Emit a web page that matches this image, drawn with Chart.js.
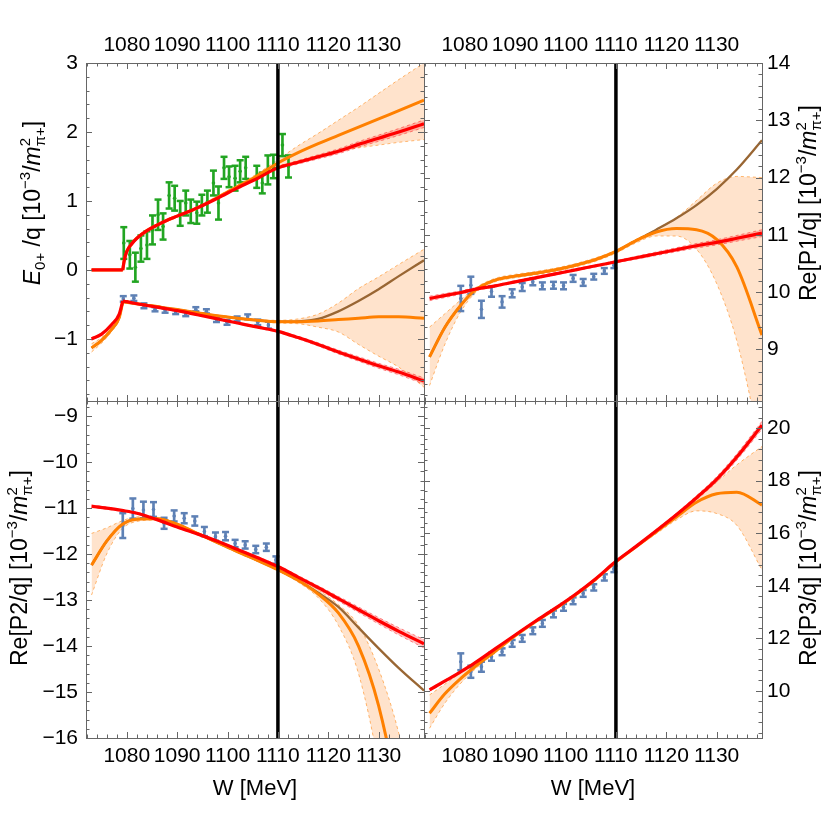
<!DOCTYPE html>
<html>
<head>
<meta charset="utf-8">
<script src="https://cdn.jsdelivr.net/npm/chart.js@4.4.1/dist/chart.umd.min.js"></script>
<style>
  html, body { margin: 0; padding: 0; background: #fff; }
  #wrap { position: relative; width: 822px; height: 822px; }
  #wrap canvas { position: absolute; left: 0; top: 0; }
</style>
</head>
<body>
<div id="wrap">
  <canvas id="pE" width="822" height="822"></canvas>
  <canvas id="pP1" width="822" height="822"></canvas>
  <canvas id="pP2" width="822" height="822"></canvas>
  <canvas id="pP3" width="822" height="822"></canvas>
</div>
<script>
// W axis (MeV)
const wMin = 1071.9, wMax = 1139;
const wTicks = [1080, 1090, 1100, 1110, 1120, 1130];
const wCut = 1110;      // vertical marker
const wCusp = 1079.2;   // pi+ n threshold

// E0+/q panel -- curve grid
const wE = [1073, 1075, 1077, 1078.5, 1079.2, 1079.5, 1080, 1081, 1082, 1084, 1086, 1088, 1090, 1094, 1098, 1102, 1106, 1110, 1114, 1118, 1122, 1126, 1130, 1134, 1139];
const eUpRed     = [0, 0, 0, 0, 0, 0.14, 0.27, 0.38, 0.46, 0.57, 0.65, 0.72, 0.78, 0.90, 1.04, 1.19, 1.33, 1.48, 1.56, 1.64, 1.72, 1.82, 1.91, 2.00, 2.12];
const eUpRedErr  = [0, 0, 0, 0, 0, 0.01, 0.01, 0.01, 0.01, 0.01, 0.01, 0.01, 0.01, 0.01, 0.01, 0.01, 0.015, 0.02, 0.025, 0.03, 0.035, 0.04, 0.045, 0.05, 0.055];
const eUpOrange  = [0, 0, 0, 0, 0, 0.14, 0.27, 0.38, 0.46, 0.57, 0.65, 0.72, 0.78, 0.90, 1.05, 1.21, 1.37, 1.55, 1.70, 1.83, 1.95, 2.07, 2.19, 2.31, 2.46];
const eUpBandHi  = [0, 0, 0, 0, 0, 0.15, 0.28, 0.39, 0.47, 0.58, 0.66, 0.73, 0.79, 0.92, 1.07, 1.23, 1.40, 1.60, 1.80, 1.98, 2.17, 2.36, 2.56, 2.76, 3.00];
const eUpBandLo  = [0, 0, 0, 0, 0, 0.13, 0.26, 0.37, 0.45, 0.56, 0.64, 0.71, 0.77, 0.88, 1.03, 1.19, 1.34, 1.50, 1.58, 1.66, 1.72, 1.77, 1.81, 1.85, 1.89];
const eLowRed    = [-1.00, -0.93, -0.79, -0.64, -0.45, -0.455, -0.46, -0.475, -0.49, -0.515, -0.54, -0.565, -0.59, -0.65, -0.71, -0.77, -0.83, -0.89, -0.98, -1.08, -1.19, -1.29, -1.39, -1.48, -1.61];
const eLowRedErr = [0.02, 0.015, 0.012, 0.01, 0.008, 0.008, 0.008, 0.008, 0.008, 0.008, 0.008, 0.008, 0.008, 0.01, 0.01, 0.012, 0.014, 0.016, 0.02, 0.024, 0.028, 0.032, 0.036, 0.04, 0.045];
const eLowOrange = [-1.13, -1.02, -0.86, -0.69, -0.46, -0.465, -0.47, -0.48, -0.49, -0.51, -0.53, -0.555, -0.575, -0.62, -0.665, -0.70, -0.73, -0.75, -0.75, -0.74, -0.72, -0.70, -0.68, -0.68, -0.70];
const eLowBrown  = [-1.13, -1.02, -0.86, -0.69, -0.46, -0.465, -0.47, -0.48, -0.49, -0.51, -0.53, -0.555, -0.575, -0.62, -0.665, -0.70, -0.73, -0.75, -0.745, -0.71, -0.60, -0.45, -0.28, -0.09, 0.14];
const eLowBandHi = [-1.07, -0.98, -0.83, -0.67, -0.45, -0.46, -0.465, -0.475, -0.485, -0.505, -0.525, -0.55, -0.57, -0.615, -0.66, -0.695, -0.72, -0.73, -0.71, -0.64, -0.48, -0.27, -0.10, 0.08, 0.30];
const eLowBandLo = [-1.19, -1.06, -0.89, -0.71, -0.47, -0.47, -0.475, -0.485, -0.495, -0.515, -0.535, -0.56, -0.58, -0.625, -0.67, -0.705, -0.74, -0.77, -0.78, -0.83, -0.90, -1.08, -1.25, -1.41, -1.70];

// E0+/q data points
const greenW   = [1079.4, 1080.6, 1081.7, 1082.8, 1084.0, 1085.1, 1086.2, 1087.2, 1088.4, 1089.5, 1090.6, 1091.7, 1092.7, 1093.9, 1094.9, 1096.0, 1097.2, 1098.2, 1099.3, 1100.3, 1101.5, 1102.5, 1103.6, 1105.8, 1106.9, 1108.0, 1109.1, 1110.9, 1112.1];
const greenV   = [0.39, 0.22, 0.04, 0.31, 0.36, 0.58, 0.80, 0.63, 1.08, 1.04, 0.82, 0.97, 0.85, 0.83, 0.94, 0.99, 1.26, 0.97, 1.48, 1.35, 1.33, 1.43, 1.48, 1.35, 1.26, 1.45, 1.50, 1.81, 1.50];
const greenErr = [0.23, 0.20, 0.21, 0.19, 0.20, 0.21, 0.22, 0.19, 0.19, 0.18, 0.18, 0.18, 0.17, 0.16, 0.15, 0.16, 0.18, 0.24, 0.16, 0.15, 0.18, 0.16, 0.16, 0.16, 0.15, 0.21, 0.17, 0.16, 0.16];
const eBlueW   = [1079.3, 1081.4, 1083.4, 1085.6, 1087.6, 1089.7, 1091.7, 1093.7, 1095.8, 1097.8, 1099.9, 1101.9, 1104.0, 1106.0, 1108.1];
const eBlueV   = [-0.42, -0.41, -0.52, -0.57, -0.59, -0.61, -0.64, -0.57, -0.60, -0.72, -0.76, -0.71, -0.68, -0.76, -0.80];
const eBlueErr = [0.04, 0.04, 0.035, 0.03, 0.03, 0.03, 0.03, 0.03, 0.03, 0.035, 0.035, 0.035, 0.035, 0.04, 0.05];

// P-wave panels -- curve grid
const wP = [1073, 1076, 1079, 1082, 1086, 1090, 1094, 1098, 1102, 1106, 1110, 1114, 1118, 1122, 1126, 1130, 1134, 1139];
const p1Red    = [9.89, 9.94, 9.99, 10.05, 10.11, 10.18, 10.25, 10.32, 10.39, 10.46, 10.53, 10.60, 10.67, 10.74, 10.81, 10.87, 10.94, 11.03];
const p1RedErr = [0.04, 0.035, 0.03, 0.025, 0.02, 0.02, 0.02, 0.02, 0.02, 0.02, 0.02, 0.025, 0.03, 0.035, 0.04, 0.045, 0.05, 0.06];
const p1Orange = [8.87, 9.38, 9.75, 10.03, 10.21, 10.28, 10.33, 10.39, 10.47, 10.57, 10.71, 10.90, 11.05, 11.11, 11.09, 10.92, 10.44, 9.25];
const p1Brown  = [8.87, 9.38, 9.75, 10.03, 10.21, 10.28, 10.33, 10.39, 10.47, 10.57, 10.71, 10.90, 11.09, 11.29, 11.52, 11.80, 12.14, 12.65];
const p1BandHi = [9.39, 9.62, 9.85, 10.07, 10.24, 10.31, 10.36, 10.42, 10.50, 10.60, 10.73, 10.92, 11.10, 11.30, 11.60, 11.90, 12.02, 12.00];
const p1BandLo = [8.37, 9.08, 9.63, 9.98, 10.18, 10.25, 10.30, 10.36, 10.44, 10.54, 10.68, 10.86, 10.98, 10.98, 10.75, 10.15, 9.15, 7.20];

const p2Red    = [-10.96, -11.00, -11.05, -11.11, -11.25, -11.41, -11.56, -11.72, -11.90, -12.08, -12.27, -12.50, -12.73, -12.97, -13.21, -13.45, -13.68, -13.95];
const p2RedErr = [0.03, 0.025, 0.02, 0.02, 0.02, 0.02, 0.02, 0.02, 0.02, 0.025, 0.03, 0.035, 0.04, 0.05, 0.06, 0.07, 0.08, 0.09];
const p2Orange = [-12.24, -11.72, -11.36, -11.24, -11.23, -11.35, -11.55, -11.75, -11.95, -12.14, -12.34, -12.57, -12.87, -13.28, -14.00, -15.30, -17.40, -21.00];
const p2Brown  = [-12.24, -11.72, -11.36, -11.24, -11.23, -11.35, -11.55, -11.75, -11.95, -12.14, -12.34, -12.57, -12.84, -13.15, -13.60, -14.05, -14.48, -14.97];
const p2BandHi = [-11.55, -11.43, -11.28, -11.19, -11.20, -11.33, -11.53, -11.73, -11.93, -12.12, -12.32, -12.53, -12.78, -13.10, -13.55, -14.50, -15.90, -18.50];
const p2BandLo = [-12.89, -12.00, -11.46, -11.29, -11.26, -11.37, -11.57, -11.77, -11.97, -12.16, -12.36, -12.61, -12.95, -13.55, -14.60, -16.60, -19.50, -23.00];

const p3Red    = [10.04, 10.37, 10.71, 11.07, 11.60, 12.13, 12.65, 13.15, 13.68, 14.27, 14.93, 15.50, 16.09, 16.70, 17.35, 18.05, 18.90, 20.11];
const p3RedErr = [0.05, 0.04, 0.03, 0.03, 0.03, 0.03, 0.03, 0.03, 0.03, 0.03, 0.03, 0.04, 0.05, 0.06, 0.08, 0.10, 0.12, 0.15];
const p3Orange = [9.15, 9.88, 10.44, 10.92, 11.50, 12.10, 12.63, 13.13, 13.66, 14.25, 14.91, 15.48, 16.05, 16.62, 17.18, 17.50, 17.56, 17.07];
const p3BandHi = [9.85, 10.25, 10.66, 11.03, 11.56, 12.13, 12.66, 13.16, 13.69, 14.28, 14.94, 15.51, 16.10, 16.72, 17.33, 17.95, 18.60, 19.30];
const p3BandLo = [8.58, 9.52, 10.25, 10.82, 11.45, 12.07, 12.60, 13.10, 13.63, 14.22, 14.88, 15.45, 15.98, 16.50, 16.85, 16.75, 16.30, 14.60];

// P-wave data points
const pDataW = [1079.2, 1081.2, 1083.3, 1085.3, 1087.4, 1089.4, 1091.4, 1093.5, 1095.4, 1097.6, 1099.6, 1101.5, 1103.5, 1105.6, 1107.7, 1109.6];
const p1V   = [9.89, 10.12, 9.70, 10.01, 9.83, 9.98, 10.09, 10.18, 10.11, 10.12, 10.11, 10.24, 10.17, 10.27, 10.37, 10.47];
const p1Err = [0.22, 0.15, 0.15, 0.09, 0.10, 0.07, 0.07, 0.06, 0.06, 0.06, 0.06, 0.06, 0.06, 0.05, 0.05, 0.05];
const p2V   = [-11.38, -11.01, -11.04, -11.03, -11.33, -11.17, -11.22, -11.28, -11.51, -11.62, -11.61, -11.77, -11.80, -11.90, -11.85, -12.13];
const p2Err = [0.27, 0.22, 0.18, 0.16, 0.12, 0.12, 0.11, 0.10, 0.10, 0.09, 0.09, 0.08, 0.08, 0.08, 0.08, 0.08];
const p3V   = [11.11, 10.73, 10.92, 11.30, 11.49, 11.81, 12.00, 12.29, 12.57, 12.93, 13.18, 13.43, 13.71, 13.94, 14.32, 14.64];
const p3Err = [0.32, 0.23, 0.19, 0.15, 0.13, 0.13, 0.13, 0.13, 0.13, 0.13, 0.13, 0.13, 0.13, 0.12, 0.12, 0.12];

// y axes
const rangeE = [-1.9, 3],      yTicksE = [-1, 0, 1, 2, 3];
const rangeP1 = [8.1, 14],     yTicksP1 = [9, 10, 11, 12, 13, 14];
const rangeP2 = [-16, -8.67],  yTicksP2 = [-16, -15, -14, -13, -12, -11, -10, -9];
const rangeP3 = [8.21, 21.03], yTicksP3 = [10, 12, 14, 16, 18, 20];

// axis titles (text, kind)
const unitParts = [[' [10', ''], ['\u22123', 'sup'], ['/', ''], ['m', 'i'], [['2', '\u03c0+'], 'subsup'], [']', '']];
const titleE  = [['E', 'i'], ['0+', 'sub'], [' /q', '']].concat(unitParts);
const titleP1 = [['Re[P1/q]', '']].concat(unitParts);
const titleP2 = [['Re[P2/q]', '']].concat(unitParts);
const titleP3 = [['Re[P3/q]', '']].concat(unitParts);

const RED = '#ff0000', ORANGE = '#ff8000', BROWN = '#996633';
const GREEN = '#22a522', BLUE = '#5e81b5';
const RED_FILL = 'rgba(255,60,60,0.3)', RED_EDGE = 'rgba(255,0,0,0.45)';
const OR_FILL = 'rgba(255,140,40,0.24)', OR_EDGE = 'rgba(255,128,0,0.55)';
const FAMILY = '"Liberation Sans", Arial, sans-serif';

function pts(ws, vs) { return ws.map((w, i) => ({ x: w, y: vs[i] })); }
// split the line at the threshold so the spline keeps the kink
function cuspPts(ws, vs) {
  const out = [];
  ws.forEach((w, i) => {
    out.push({ x: w, y: vs[i] });
    if (w === wCusp) out.push({ x: w, y: null }, { x: w, y: vs[i] });
  });
  return out;
}
const plus = (a, b) => a.map((v, i) => v + b[i]);
const minus = (a, b) => a.map((v, i) => v - b[i]);

function curve(data, color, width, order) {
  return { type: 'line', data, borderColor: color, borderWidth: width, pointRadius: 0,
    fill: false, cubicInterpolationMode: 'monotone', order };
}
function band(hi, lo, edge, fillColor, order) {
  const common = { type: 'line', borderColor: edge, borderWidth: 1, borderDash: [3, 3],
    pointRadius: 0, cubicInterpolationMode: 'monotone', order };
  return [
    Object.assign({ data: hi, fill: '+1', backgroundColor: fillColor }, common),
    Object.assign({ data: lo, fill: false }, common)
  ];
}
function errorBars(ws, vs, es, color, order) {
  return [
    { type: 'bar', data: ws.map((w, i) => ({ x: w, y: [vs[i] - es[i], vs[i] + es[i]] })),
      backgroundColor: color, barThickness: 2, grouped: false, borderWidth: 0, order },
    { type: 'scatter', data: ws.flatMap((w, i) => [{ x: w, y: vs[i] - es[i] }, { x: w, y: vs[i] + es[i] }]),
      pointStyle: 'line', pointRadius: 3.5, pointBorderColor: color, pointBorderWidth: 2.5, order },
    { type: 'scatter', data: pts(ws, vs), pointStyle: 'circle', pointRadius: 1.8,
      pointBackgroundColor: color, pointBorderWidth: 0, order }
  ];
}
function cutLine(range) {
  return { type: 'line', data: [{ x: wCut, y: range[0] }, { x: wCut, y: range[1] }],
    borderColor: '#000', borderWidth: 3.5, pointRadius: 0, order: 0 };
}
function fmt(v) { return v < 0 ? '\u2212' + Math.abs(v) : String(v); }

function makePanel(id, p) {
  const left = p.col === 0, top = p.row === 0;
  const area = { l: left ? 86 : 424, r: left ? 424 : 762, t: top ? 63 : 401, b: top ? 401 : 738 };

  // Mathematica-style frame with inward ticks on all four sides
  const frameTicks = {
    id: 'frameTicks',
    afterDatasetsDraw(chart) {
      const { ctx, chartArea: a } = chart;
      const xs = chart.scales.x, ys = chart.scales.y;
      const each = (lo, hi, step, major, fn) => {
        for (let n = Math.ceil(lo / step - 1e-9); n <= Math.floor(hi / step + 1e-9); n++) {
          const v = n * step;
          fn(v, Math.abs(v / major - Math.round(v / major)) < 1e-6 ? 6 : 3.5);
        }
      };
      ctx.save();
      ctx.strokeStyle = '#666';
      ctx.lineWidth = 1;
      ctx.strokeRect(a.left + 0.5, a.top + 0.5, a.right - a.left, a.bottom - a.top);
      ctx.beginPath();
      each(xs.min, xs.max, 2, 10, (v, len) => {
        const px = Math.round(xs.getPixelForValue(v)) + 0.5;
        ctx.moveTo(px, a.top); ctx.lineTo(px, a.top + len);
        ctx.moveTo(px, a.bottom); ctx.lineTo(px, a.bottom - len);
      });
      each(ys.min, ys.max, p.yMinor, p.yMajor, (v, len) => {
        const py = Math.round(ys.getPixelForValue(v)) + 0.5;
        ctx.moveTo(a.left, py); ctx.lineTo(a.left + len, py);
        ctx.moveTo(a.right, py); ctx.lineTo(a.right - len, py);
      });
      ctx.stroke();
      ctx.restore();
    }
  };

  // rotated y title with sub/superscripts
  const richTitle = {
    id: 'richTitle',
    afterDraw(chart) {
      const ctx = chart.ctx;
      const fontOf = k => (k === 'i' ? 'italic ' : '') + (k === 'sub' || k === 'sup' || k === 'subsup' ? 15 : 23) + 'px ' + FAMILY;
      const widthOf = ([t, k]) => {
        ctx.font = fontOf(k);
        return k === 'subsup' ? Math.max(ctx.measureText(t[0]).width, ctx.measureText(t[1]).width) : ctx.measureText(t).width;
      };
      ctx.save();
      ctx.translate(p.titleX, p.titleY);
      ctx.rotate(-Math.PI / 2);
      ctx.fillStyle = '#000';
      ctx.textAlign = 'left';
      ctx.textBaseline = 'alphabetic';
      const total = p.title.reduce((s, part) => s + widthOf(part), 0);
      let x = -total / 2;
      p.title.forEach(part => {
        const [t, k] = part;
        const w = widthOf(part);
        if (k === 'subsup') { ctx.fillText(t[0], x, -10); ctx.fillText(t[1], x, 5); }
        else ctx.fillText(t, x, k === 'sup' ? -10 : k === 'sub' ? 5 : 0);
        x += w;
      });
      ctx.restore();
    }
  };

  new Chart(document.getElementById(id), {
    type: 'line',
    data: { datasets: p.datasets },
    options: {
      responsive: false,
      animation: false,
      events: [],
      devicePixelRatio: 1,
      layout: { padding: {
        left: left ? 0 : area.l, right: left ? 822 - area.r : 0,
        top: top ? 0 : area.t, bottom: top ? 822 - area.b : 0 } },
      plugins: { legend: { display: false }, tooltip: { enabled: false } },
      scales: {
        x: {
          type: 'linear', position: top ? 'top' : 'bottom', min: wMin, max: wMax, offset: false,
          afterBuildTicks: s => { s.ticks = wTicks.map(v => ({ value: v })); },
          afterFit: s => { s.height = top ? area.t : 822 - area.b; },
          grid: { display: false, drawTicks: false },
          border: { display: false },
          ticks: { font: { family: FAMILY, size: 21 }, color: '#000', padding: top ? 5 : 6,
            maxRotation: 0, minRotation: 0, autoSkip: false, callback: v => String(v) },
          title: { display: !top, text: 'W [MeV]', color: '#000',
            font: { family: FAMILY, size: 22 }, padding: { top: 0, bottom: 20 } }
        },
        y: {
          type: 'linear', position: left ? 'left' : 'right', min: p.yRange[0], max: p.yRange[1],
          afterBuildTicks: s => { s.ticks = p.yTicks.map(v => ({ value: v })); },
          afterFit: s => { s.width = left ? area.l : 822 - area.r; },
          grid: { display: false, drawTicks: false },
          border: { display: false },
          ticks: { font: { family: FAMILY, size: 21 }, color: '#000', padding: left ? 8 : 5, callback: fmt }
        }
      }
    },
    plugins: [frameTicks, richTitle]
  });
}

// E0+/q
makePanel('pE', {
  row: 0, col: 0, yRange: rangeE, yTicks: yTicksE, yMajor: 1, yMinor: 0.2,
  title: titleE, titleX: 40, titleY: 203,
  datasets: [
    cutLine(rangeE),
    curve(cuspPts(wE, eUpRed), RED, 3.2, 1),
    curve(cuspPts(wE, eLowRed), RED, 3.2, 1),
    curve(cuspPts(wE, eUpOrange), ORANGE, 3, 2),
    curve(cuspPts(wE, eLowOrange), ORANGE, 3, 2),
    curve(cuspPts(wE, eLowBrown), BROWN, 2.3, 3),
    ...errorBars(greenW, greenV, greenErr, GREEN, 4),
    ...errorBars(eBlueW, eBlueV, eBlueErr, BLUE, 4),
    ...band(cuspPts(wE, plus(eUpRed, eUpRedErr)), cuspPts(wE, minus(eUpRed, eUpRedErr)), RED_EDGE, RED_FILL, 5),
    ...band(cuspPts(wE, plus(eLowRed, eLowRedErr)), cuspPts(wE, minus(eLowRed, eLowRedErr)), RED_EDGE, RED_FILL, 5),
    ...band(cuspPts(wE, eUpBandHi), cuspPts(wE, eUpBandLo), OR_EDGE, OR_FILL, 6),
    ...band(cuspPts(wE, eLowBandHi), cuspPts(wE, eLowBandLo), OR_EDGE, OR_FILL, 6)
  ]
});

// Re[P1/q]
makePanel('pP1', {
  row: 0, col: 1, yRange: rangeP1, yTicks: yTicksP1, yMajor: 1, yMinor: 0.2,
  title: titleP1, titleX: 816, titleY: 203,
  datasets: [
    cutLine(rangeP1),
    curve(pts(wP, p1Red), RED, 3.2, 1),
    curve(pts(wP, p1Orange), ORANGE, 3, 2),
    curve(pts(wP, p1Brown), BROWN, 2.3, 3),
    ...errorBars(pDataW, p1V, p1Err, BLUE, 4),
    ...band(pts(wP, plus(p1Red, p1RedErr)), pts(wP, minus(p1Red, p1RedErr)), RED_EDGE, RED_FILL, 5),
    ...band(pts(wP, p1BandHi), pts(wP, p1BandLo), OR_EDGE, OR_FILL, 6)
  ]
});

// Re[P2/q]
makePanel('pP2', {
  row: 1, col: 0, yRange: rangeP2, yTicks: yTicksP2, yMajor: 1, yMinor: 0.2,
  title: titleP2, titleX: 27, titleY: 568,
  datasets: [
    cutLine(rangeP2),
    curve(pts(wP, p2Red), RED, 3.2, 1),
    curve(pts(wP, p2Orange), ORANGE, 3, 2),
    curve(pts(wP, p2Brown), BROWN, 2.3, 3),
    ...errorBars(pDataW, p2V, p2Err, BLUE, 4),
    ...band(pts(wP, plus(p2Red, p2RedErr)), pts(wP, minus(p2Red, p2RedErr)), RED_EDGE, RED_FILL, 5),
    ...band(pts(wP, p2BandHi), pts(wP, p2BandLo), OR_EDGE, OR_FILL, 6)
  ]
});

// Re[P3/q]
makePanel('pP3', {
  row: 1, col: 1, yRange: rangeP3, yTicks: yTicksP3, yMajor: 2, yMinor: 0.4,
  title: titleP3, titleX: 816, titleY: 568,
  datasets: [
    cutLine(rangeP3),
    curve(pts(wP, p3Red), RED, 3.2, 1),
    curve(pts(wP, p3Orange), ORANGE, 3, 2),
    ...errorBars(pDataW, p3V, p3Err, BLUE, 4),
    ...band(pts(wP, plus(p3Red, p3RedErr)), pts(wP, minus(p3Red, p3RedErr)), RED_EDGE, RED_FILL, 5),
    ...band(pts(wP, p3BandHi), pts(wP, p3BandLo), OR_EDGE, OR_FILL, 6)
  ]
});
</script>
</body>
</html>
